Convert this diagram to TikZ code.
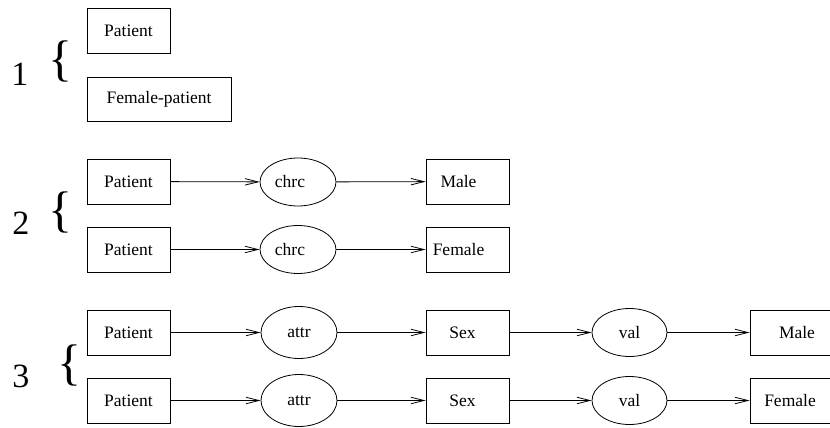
\documentclass[tikz,border=0pt]{standalone}
\usepackage{fontspec}
\setmainfont{Liberation Serif}
\usetikzlibrary{arrows.meta,shapes.geometric}
\begin{document}
\begin{tikzpicture}[x=1pt,y=-1pt,
  line width=0.8pt,
  every node/.style={font=\fontsize{17.5}{20}\selectfont},
  box/.style={draw, rectangle, minimum width=83pt, minimum height=45pt, inner sep=0pt},
  oval/.style={draw, ellipse, minimum width=76pt, minimum height=48pt, inner sep=0pt},
  link/.style={-{Straight Barb[length=13pt,width=6.5pt]}},
  num/.style={font=\fontsize{34}{34}\selectfont, inner sep=0pt, anchor=base},
  brace/.style={font=\fontsize{50}{50}\selectfont, inner sep=0pt, anchor=base}]
\useasboundingbox (0,0) rectangle (830,428);

% group 1: two concepts
\node[num] (n1) at (20,85) {1};
\node[brace] (b1) at (60,76) {\{};
\node[box] (p1) at (128.5,30.5) {Patient};
\node[box, minimum width=144pt, minimum height=44pt] (fp1) at (159,99) {Female-patient};

% group 2: concept -- chrc -- value
\node[num] (n2) at (21,234) {2};
\node[brace] (b2) at (60,226) {\{};
\node[box] (p2a) at (128.5,181.5) {Patient};
\node[oval, label={[xshift=-8pt]center:chrc}] (c2a) at (298,182) {};
\node[box, label={[xshift=-9pt]center:Male}] (m2a) at (467.5,181.5) {};
\node[box] (p2b) at (128.5,249.5) {Patient};
\node[oval, label={[xshift=-8pt]center:chrc}] (c2b) at (298,249.5) {};
\node[box, label={[xshift=-9pt]center:Female}] (f2b) at (467.5,249.5) {};
\draw[link] (p2a) -- (c2a);
\draw[link] (c2a) -- (m2a);
\draw[link] (p2b) -- (c2b);
\draw[link] (c2b) -- (f2b);

% group 3: concept -- attr -- Sex -- val -- value
\node[num] (n3) at (21,387) {3};
\node[brace] (b3) at (69,379.5) {\{};
\node[box] (p3a) at (128.5,332.5) {Patient};
\node[oval, minimum height=52pt] (a3a) at (299,332.5) {attr};
\node[box, label={[xshift=-5pt]center:Sex}] (s3a) at (467.5,332.5) {};
\node[oval, minimum width=75pt] (v3a) at (629.5,332.5) {val};
\node[box, minimum width=80pt, label={[xshift=7pt]center:Male}] (m3a) at (790,332.5) {};
\node[box] (p3b) at (128.5,400.5) {Patient};
\node[oval, minimum height=52pt] (a3b) at (299,400.5) {attr};
\node[box, label={[xshift=-5pt]center:Sex}] (s3b) at (467.5,400.5) {};
\node[oval, minimum width=75pt] (v3b) at (629.5,400.5) {val};
\node[box, minimum width=80pt] (f3b) at (790,400.5) {Female};
\draw[link] (p3a) -- (a3a);
\draw[link] (a3a) -- (s3a);
\draw[link] (s3a) -- (v3a);
\draw[link] (v3a) -- (m3a);
\draw[link] (p3b) -- (a3b);
\draw[link] (a3b) -- (s3b);
\draw[link] (s3b) -- (v3b);
\draw[link] (v3b) -- (f3b);
\end{tikzpicture}
\end{document}
